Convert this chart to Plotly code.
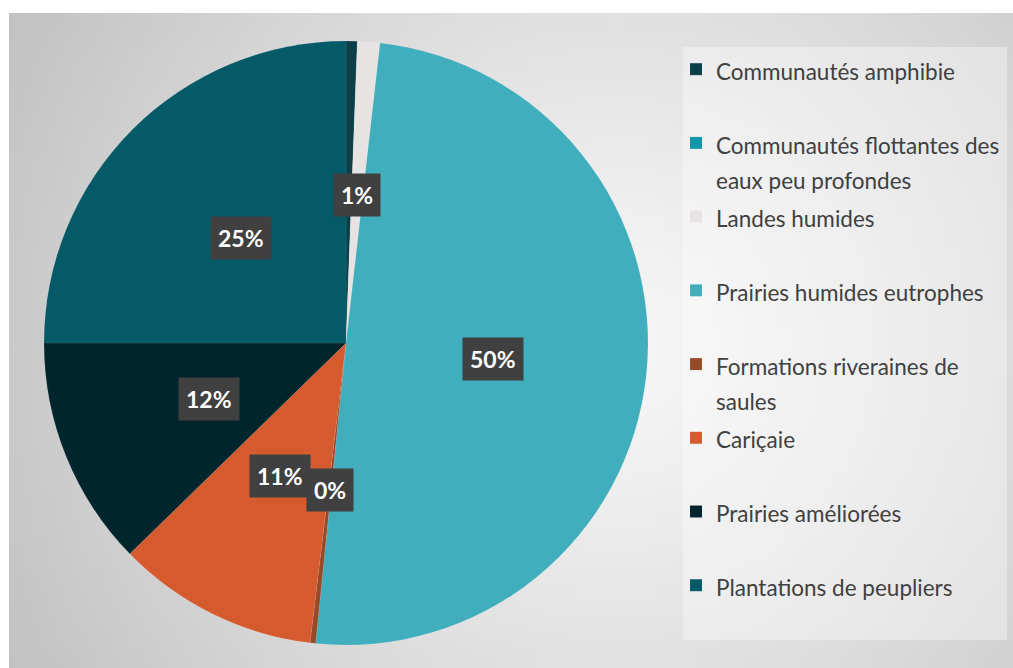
import base64
import math
import struct
import zlib

import plotly.graph_objects as go

W, H = 1013, 668

categories = [
    "Communautés amphibie",
    "Communautés flottantes des eaux peu profondes",
    "Landes humides",
    "Prairies humides eutrophes",
    "Formations riveraines de saules",
    "Cariçaie",
    "Prairies améliorées",
    "Plantations de peupliers",
]
legend_names = [
    "Communautés amphibie",
    "Communautés flottantes des<br>eaux peu profondes",
    "Landes humides",
    "Prairies humides eutrophes",
    "Formations riveraines de<br>saules",
    "Cariçaie",
    "Prairies améliorées",
    "Plantations de peupliers",
]
shares = [0.6, 0.0, 1.2, 49.8, 0.3, 10.8, 12.3, 25.0]
colors = ["#0b3f49", "#0f96a8", "#e8e3e3", "#41aebd",
          "#954a28", "#d55b2e", "#00252c", "#045a67"]
labelled = ["Landes humides", "Prairies humides eutrophes",
            "Formations riveraines de saules", "Cariçaie",
            "Prairies améliorées", "Plantations de peupliers"]


def gradient_png(w, h):
    """small grayscale radial gradient, stretched by the browser"""
    cx, cy, dmax = 0.6 * w, 0.5 * h, 0.72 * w
    rows = []
    for j in range(h):
        row = bytearray([0])
        for i in range(w):
            d = math.hypot(i - cx, j - cy) / dmax
            row.append(max(0, min(255, int(247 - 56 * d ** 1.2))))
        rows.append(bytes(row))
    raw = zlib.compress(b"".join(rows))

    def chunk(tag, data):
        c = struct.pack(">I", len(data)) + tag + data
        return c + struct.pack(">I", zlib.crc32(tag + data) & 0xffffffff)

    png = (b"\x89PNG\r\n\x1a\n"
           + chunk(b"IHDR", struct.pack(">IIBBBBB", w, h, 8, 0, 0, 0, 0))
           + chunk(b"IDAT", raw) + chunk(b"IEND", b""))
    return "data:image/png;base64," + base64.b64encode(png).decode()


# pie placement in pixels
cx, cy, R = 346, 343, 302

# every legend entry is two lines of a large base font (even spacing),
# visible text drawn smaller inside a span
span = '<span style="font-size:22.5px">%s</span>'
padded = []
for n in legend_names:
    parts = n.split("<br>")
    if len(parts) == 1:
        parts.append("\u00a0")
    padded.append("<br>".join(span % p for p in parts))

fig = go.Figure()
fig.add_trace(go.Pie(
    labels=padded,
    values=shares,
    sort=False,
    direction="clockwise",
    rotation=0,
    marker=dict(colors=colors, line=dict(color="rgba(255,255,255,0.15)", width=0.5)),
    textinfo="none",
    hovertext=categories,
    hoverinfo="text+percent",
    domain=dict(x=[(cx - R) / W, (cx + R) / W], y=[(H - cy - R) / H, (H - cy + R) / H]),
))

# data labels in dark boxes, placed at half radius of each slice
total = sum(shares)
cum = 0.0
annotations = []
for name, v in zip(categories, shares):
    mid = (cum + v / 2) / total * 2 * math.pi
    cum += v
    if name not in labelled:
        continue
    px_ = cx + 0.49 * R * math.sin(mid)
    py_ = cy - 0.49 * R * math.cos(mid)
    annotations.append(dict(
        x=px_ / W, y=1 - py_ / H, xref="paper", yref="paper",
        xanchor="center", yanchor="middle",
        text="<b>%d%%</b>" % round(v / total * 100),
        showarrow=False,
        font=dict(family="Lato, Open Sans, sans-serif", size=23, color="white"),
        bgcolor="#404040",
        borderpad=7,
    ))

fig.update_layout(
    width=W,
    height=H,
    margin=dict(l=0, r=0, t=0, b=0),
    paper_bgcolor="white",
    font=dict(family="Lato, Open Sans, sans-serif", color="#404040"),
    images=[dict(
        source=gradient_png(100, 66),
        xref="paper", yref="paper",
        x=9 / W, y=1 - 13 / H, sizex=1 - 9 / W, sizey=1 - 13 / H,
        xanchor="left", yanchor="top", sizing="stretch", layer="below",
    )],
    shapes=[dict(
        type="rect", xref="paper", yref="paper",
        x0=683 / W, x1=1007 / W, y0=1 - 640 / H, y1=1 - 47 / H,
        fillcolor="rgba(255,255,255,0.35)", line=dict(width=0), layer="below",
    )],
    legend=dict(
        x=676 / W, y=1 - 45 / H, xanchor="left", yanchor="top",
        bgcolor="rgba(0,0,0,0)",
        font=dict(size=27.2, color="#404040"),
        valign="top",
    ),
    annotations=annotations,
)

fig.write_html("out.html", config={"displayModeBar": False},
               post_script="document.body.style.margin='0';")
